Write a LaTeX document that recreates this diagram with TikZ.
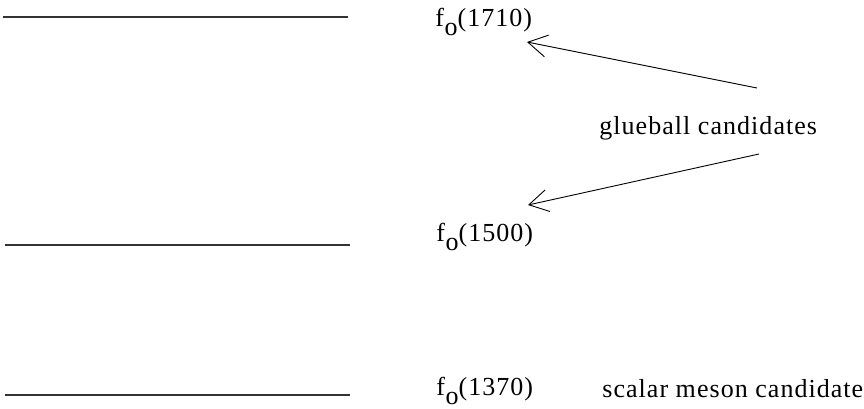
\documentclass[tikz,border=0pt]{standalone}
\usepackage{fontspec}
\setmainfont{Liberation Serif}[LetterSpace=4]
\usetikzlibrary{arrows.meta, positioning}
\tikzset{
  level/.style={line width=0.6pt, color=black!80},
  lbl/.style={inner sep=0pt, anchor=base west,
              font=\fontsize{13}{15}\selectfont, text=black},
  arr/.style={-{Straight Barb[length=9.5pt, width=11pt]}, line width=0.45pt, color=black},
}
\newcommand{\fsub}{f\kern0.3pt\raisebox{-4.5pt}{o}}

\begin{document}
\begin{tikzpicture}[x=0.5pt, y=-0.5pt]
      \useasboundingbox (0,0) rectangle (864,408);

      % Levels
      \draw[level] (3,17) -- (348,17);
      \draw[level] (5,245) -- (350,245);
      \draw[level] (5,395) -- (350,395);

      % Labels
      \node[lbl] (fa) at (435,26) {\fsub(1710)};
      \node[lbl] (fb) at (436,241) {\fsub(1500)};
      \node[lbl] (fc) at (436,395) {\fsub(1370)};
      \node[lbl] (glue) at (599,134) {glueball candidates};
      \node[lbl] (scal) at (602,397) {scalar meson candidates};

      % Arrow ends
      \coordinate (ga) at (757,88);
      \coordinate (gb) at (759,154);
      \coordinate (ta) at (527,42);
      \coordinate (tb) at (528,205);

      \draw[arr] (ga) -- (ta);
      \draw[arr] (gb) -- (tb);
    \end{tikzpicture}
\end{document}
